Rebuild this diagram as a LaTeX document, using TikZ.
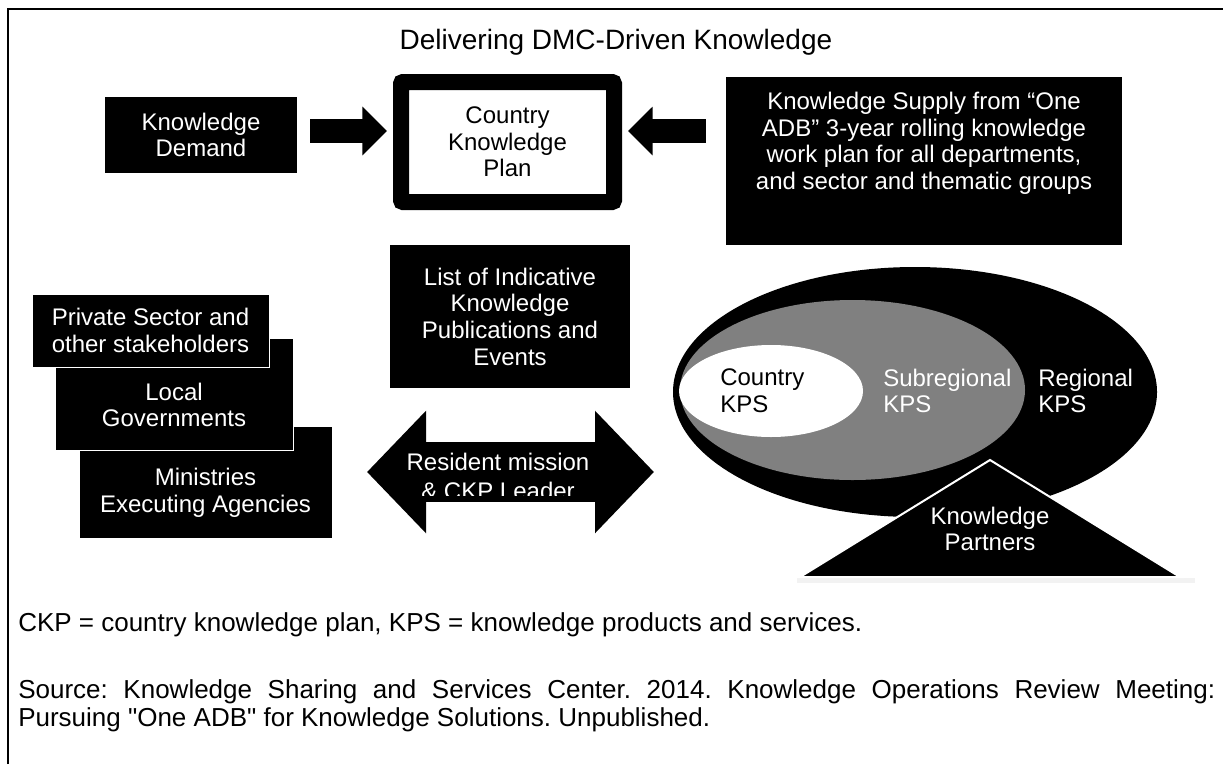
\documentclass[tikz,border=0pt]{standalone}
\usepackage{fontspec}
\setmainfont{Liberation Sans}[Ligatures=TeXOff]
\usetikzlibrary{arrows.meta}
\definecolor{kpsgray}{RGB}{128,128,128}
\newcommand{\boxfont}{\fontsize{18}{20}\selectfont}
\newcommand{\titlefont}{\fontsize{21}{24}\selectfont}
\newcommand{\notefont}{\fontsize{19.5}{21}\selectfont\frenchspacing}
\tikzset{
  darkbox/.style={fill=black, text=white, align=center, inner sep=0pt, font=\boxfont},
  stackbox/.style={darkbox, draw=white, line width=0.75pt},
  boxtext/.style={align=center, inner sep=0pt, font=\boxfont},
  blockarrow/.style={line width=17.5pt, -{Triangle[length=18.5pt,width=35.5pt]}},
}
\begin{document}
\begin{tikzpicture}[x=0.75pt, y=-0.75pt]
  \useasboundingbox (0,0) rectangle (1223,764);
  \draw[line width=1.5pt] (8,764) -- (8,9) -- (1223,9);
  \node[font=\titlefont] (title) at (616,42) {Delivering DMC-Driven Knowledge};

  \node[darkbox, minimum width=144pt, minimum height=57pt] (demand) at (201,135) {Knowledge\\Demand};
  \node[boxtext, draw=black, line width=12pt, rounded corners=1.5pt, minimum width=159.75pt, minimum height=90pt] (plan) at (507.5,142) {Country\\Knowledge\\Plan};
  \node[darkbox, minimum width=297pt, minimum height=126pt] (supply) at (924,161) {};
  \node[boxtext, text=white, anchor=north] (supplytext) at (924,92) {Knowledge Supply from “One\\ADB” 3-year rolling knowledge\\work plan for all departments,\\and sector and thematic groups};

  \coordinate (row) at (0,131);
  \draw[blockarrow, shorten <=9.75pt, shorten >=4.5pt] (demand.east |- row) -- (plan.west |- row);
  \draw[blockarrow, shorten <=15pt, shorten >=4.5pt] (supply.west |- row) -- (plan.east |- row);

  \node[darkbox, minimum width=180pt, minimum height=107.25pt] (events) at (510,316.5) {List of Indicative\\Knowledge\\Publications and\\Events};

  % stacked boxes on the left
  \node[stackbox, minimum width=189.75pt, minimum height=84pt] (ministries) at (205.5,482) {};
  \node[boxtext, text=white] (ministriestext) at (205.5,493) {Ministries\\Executing Agencies};
  \node[stackbox, minimum width=178.5pt, minimum height=84pt] (local) at (174,394) {};
  \node[boxtext, text=white] (localtext) at (174,405) {Local\\Governments};
  \node[stackbox, minimum width=177.75pt, minimum height=54.75pt] (private) at (150.5,330.5) {Private Sector and\\other stakeholders};

  % two-headed arrow
  \coordinate (missionleft) at (367,472);
  \coordinate (missionright) at (654,472);
  \draw[line width=45pt, {Triangle[length=44.25pt,width=89.25pt]}-{Triangle[length=44.25pt,width=89.25pt]}] (missionleft) -- (missionright);
  \begin{scope}
    \clip (367,444) rectangle (654,495);
    \node[boxtext, text=white, font=\fontsize{18}{21.75}\selectfont] (mission) at (498,476) {Resident mission\\\& CKP Leader};
  \end{scope}

  % nested KPS ellipses
  \fill (915,392) ellipse [x radius=242, y radius=125];
  \fill[kpsgray] (852.5,390) ellipse [x radius=172.5, y radius=90];
  \fill[white] (771,391) ellipse [x radius=92, y radius=46];
  \node[boxtext, align=left, anchor=west] (countrykps) at (720,391) {Country\\KPS};
  \node[boxtext, align=left, anchor=west, text=white] (subregionalkps) at (883,391) {Subregional\\KPS};
  \node[boxtext, align=left, anchor=west, text=white] (regionalkps) at (1038,391) {Regional\\KPS};

  \fill[black!5] (797,578) rectangle (1195,583);
  \filldraw[fill=black, draw=white, line width=1.5pt] (990,460) -- (1180,577) -- (800,577) -- cycle;
  \node[boxtext, text=white] (partners) at (990,529) {Knowledge\\Partners};

  \node[font=\notefont, anchor=west, inner sep=0pt] (abbrev) at (18,625) {CKP = country knowledge plan, KPS = knowledge products and services.};
  \node[font=\notefont, anchor=north west, inner sep=0pt, text width=897.75pt, align=justify] (source) at (18,679) {Source: Knowledge Sharing and Services Center. 2014. Knowledge Operations Review Meeting:\linebreak Pursuing "One ADB" for Knowledge Solutions. Unpublished.};
\end{tikzpicture}
\end{document}
